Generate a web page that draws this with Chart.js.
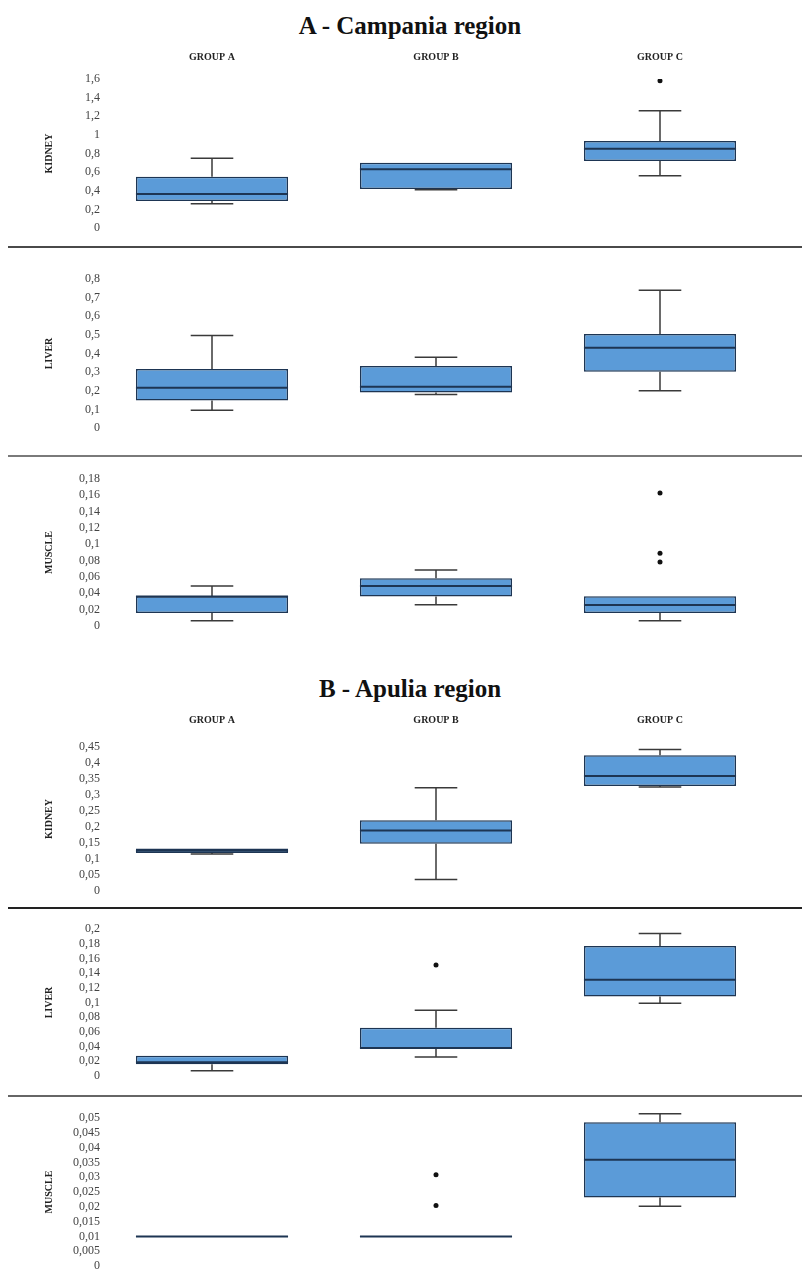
<!DOCTYPE html>
<html lang="en">

<head>
    <meta charset="UTF-8">
    <title>Campania and Apulia regions</title>
    <script src="https://cdn.jsdelivr.net/npm/chart.js"></script>
    <style>
        body {
            margin: 0;
            background: #fff;
        }

        .page {
            position: relative;
            width: 802px;
            height: 1287px;
            overflow: hidden;
        }

        .title {
            position: absolute;
            left: 0;
            width: 820px;
            text-align: center;
            font: bold 25px/30px "Liberation Serif", "Times New Roman", serif;
            color: #111;
        }

        .rule {
            position: absolute;
            left: 8px;
            right: 0;
            height: 2px;
        }

        canvas {
            position: absolute;
            left: 0;
        }
    </style>
</head>

<body>
    <div class="page">
        <div class="title" style="top: 11px">A - Campania region</div>
        <canvas id="campKidney" width="802" height="200" style="top: 40px"></canvas>
        <div class="rule" style="top: 246px; background: #4a4a4a"></div>
        <canvas id="campLiver" width="802" height="178" style="top: 262px"></canvas>
        <div class="rule" style="top: 455px; background: #7a7a7a"></div>
        <canvas id="campMuscle" width="802" height="176" style="top: 462px"></canvas>

        <div class="title" style="top: 674px">B - Apulia region</div>
        <canvas id="apuKidney" width="802" height="203" style="top: 700px"></canvas>
        <div class="rule" style="top: 907px; background: #222"></div>
        <canvas id="apuLiver" width="802" height="176" style="top: 912px"></canvas>
        <div class="rule" style="top: 1095px; background: #666"></div>
        <canvas id="apuMuscle" width="802" height="177" style="top: 1101px"></canvas>
    </div>

    <script>
        const groups = ['GROUP A', 'GROUP B', 'GROUP C'];

        // A - Campania region
        const campKidneyMin = [0.26, 0.41, 0.56];
        const campKidneyQ1 = [0.29, 0.42, 0.72];
        const campKidneyMed = [0.365, 0.63, 0.85];
        const campKidneyQ3 = [0.55, 0.70, 0.935];
        const campKidneyMax = [0.75, 0.70, 1.26];
        const campKidneyOut = [[], [], [1.58]];

        const campLiverMin = [0.095, 0.18, 0.20];
        const campLiverQ1 = [0.147, 0.19, 0.302];
        const campLiverMed = [0.216, 0.222, 0.431];
        const campLiverQ3 = [0.317, 0.333, 0.505];
        const campLiverMax = [0.496, 0.38, 0.74];
        const campLiverOut = [[], [], []];

        const campMuscleMin = [0.0065, 0.026, 0.0065];
        const campMuscleQ1 = [0.016, 0.036, 0.016];
        const campMuscleMed = [0.036, 0.049, 0.0258];
        const campMuscleQ3 = [0.0364, 0.0585, 0.0364];
        const campMuscleMax = [0.049, 0.0687, 0.0364];
        const campMuscleOut = [[], [], [0.163, 0.089, 0.0785]];

        // B - Apulia region
        const apuKidneyMin = [0.116, 0.036, 0.325];
        const apuKidneyQ1 = [0.119, 0.148, 0.328];
        const apuKidneyMed = [0.126, 0.189, 0.359];
        const apuKidneyQ3 = [0.133, 0.221, 0.424];
        const apuKidneyMax = [0.133, 0.323, 0.442];
        const apuKidneyOut = [[], [], []];

        const apuLiverMin = [0.0073, 0.0258, 0.099];
        const apuLiverQ1 = [0.016, 0.0367, 0.108];
        const apuLiverMed = [0.0186, 0.038, 0.131];
        const apuLiverQ3 = [0.0277, 0.0658, 0.177];
        const apuLiverMax = [0.0277, 0.0893, 0.194];
        const apuLiverOut = [[], [0.151], []];

        const apuMuscleMin = [0.01, 0.01, 0.0202];
        const apuMuscleQ1 = [0.01, 0.01, 0.0231];
        const apuMuscleMed = [0.01, 0.01, 0.0359];
        const apuMuscleQ3 = [0.01, 0.01, 0.0486];
        const apuMuscleMax = [0.01, 0.01, 0.0514];
        const apuMuscleOut = [[], [0.0308, 0.0204], []];

        // y axes, in panel order: top tick and tick step
        const yMaxima = [1.6, 0.8, 0.18, 0.45, 0.2, 0.05];
        const ySteps = [0.2, 0.1, 0.02, 0.05, 0.02, 0.005];

        const serif = '"Liberation Serif", "Times New Roman", serif';
        Chart.defaults.font.family = serif;

        // whiskers, caps and median drawn on top of the floating bars
        const whiskers = {
            id: 'whiskers',
            afterDatasetsDraw(chart) {
                const ds = chart.data.datasets[0];
                const y = chart.scales.y;
                const ctx = chart.ctx;
                chart.getDatasetMeta(0).data.forEach((bar, i) => {
                    const half = bar.width / 2;
                    const cap = bar.width * 0.14;
                    const top = y.getPixelForValue(ds.q3[i]);
                    const bottom = y.getPixelForValue(ds.q1[i]);
                    const hi = y.getPixelForValue(ds.max[i]);
                    const lo = y.getPixelForValue(ds.min[i]);
                    const med = y.getPixelForValue(ds.med[i]);
                    ctx.save();
                    ctx.strokeStyle = '#3a3a3a';
                    ctx.lineWidth = 1.5;
                    ctx.beginPath();
                    if (hi < top - 0.5) {
                        ctx.moveTo(bar.x, top);
                        ctx.lineTo(bar.x, hi);
                        ctx.moveTo(bar.x - cap, hi);
                        ctx.lineTo(bar.x + cap, hi);
                    }
                    if (lo > bottom + 0.5) {
                        ctx.moveTo(bar.x, bottom);
                        ctx.lineTo(bar.x, lo);
                        ctx.moveTo(bar.x - cap, lo);
                        ctx.lineTo(bar.x + cap, lo);
                    }
                    ctx.stroke();
                    ctx.strokeStyle = '#1d3553';
                    ctx.lineWidth = 2;
                    ctx.beginPath();
                    ctx.moveTo(bar.x - half, med);
                    ctx.lineTo(bar.x + half, med);
                    ctx.stroke();
                    ctx.restore();
                });
            }
        };

        function boxChart(id, panel, label, s, layout) {
            const outliers = [];
            s.out.forEach((vals, i) => vals.forEach(v => outliers.push({ x: groups[i], y: v })));
            const max = yMaxima[panel];
            const step = ySteps[panel];

            return new Chart(document.getElementById(id), {
                type: 'bar',
                data: {
                    labels: groups,
                    datasets: [{
                        data: s.q1.map((v, i) => [v, s.q3[i]]),
                        q1: s.q1, q3: s.q3, med: s.med, min: s.min, max: s.max,
                        backgroundColor: '#5b9bd8',
                        borderColor: '#1d3553',
                        borderWidth: 1.5,
                        borderSkipped: false,
                        categoryPercentage: 1,
                        barPercentage: 0.679
                    }, {
                        type: 'line',
                        data: outliers,
                        showLine: false,
                        pointRadius: 2.5,
                        pointBackgroundColor: '#111',
                        pointBorderWidth: 0
                    }]
                },
                options: {
                    responsive: false,
                    animation: false,
                    layout: { padding: { top: layout.padTop, bottom: 12, left: 0, right: 30 } },
                    plugins: { legend: { display: false }, tooltip: { enabled: false } },
                    scales: {
                        x: {
                            position: 'top',
                            display: layout.groups,
                            grid: { display: false, drawTicks: false },
                            border: { display: false },
                            ticks: {
                                padding: layout.labelPad,
                                color: '#222',
                                font: { size: 10, weight: 'bold' }
                            },
                            afterFit: sc => { sc.height = layout.axisHeight; }
                        },
                        y: {
                            min: 0,
                            max: max,
                            grid: { display: false, drawTicks: false },
                            border: { display: false },
                            title: {
                                display: true,
                                text: label,
                                color: '#222',
                                font: { size: 10, weight: 'bold' },
                                padding: { top: 43, bottom: 0 }
                            },
                            ticks: {
                                padding: 0,
                                autoSkip: false,
                                color: '#444',
                                font: { size: 12 },
                                callback: v => String(+v.toFixed(4)).replace('.', ',')
                            },
                            afterBuildTicks: sc => {
                                const n = Math.round(max / step);
                                sc.ticks = [];
                                for (let i = 0; i <= n; i++) sc.ticks.push({ value: i * step });
                            },
                            afterFit: sc => { sc.width = 100; }
                        }
                    }
                },
                plugins: [whiskers]
            });
        }

        const withGroups = (axisHeight, labelPad) => ({ groups: true, padTop: 0, axisHeight, labelPad });
        const plain = { groups: false, padTop: 17, axisHeight: 0, labelPad: 0 };

        boxChart('campKidney', 0, 'KIDNEY', { min: campKidneyMin, q1: campKidneyQ1, med: campKidneyMed, q3: campKidneyQ3, max: campKidneyMax, out: campKidneyOut }, withGroups(39, 16));
        boxChart('campLiver', 1, 'LIVER', { min: campLiverMin, q1: campLiverQ1, med: campLiverMed, q3: campLiverQ3, max: campLiverMax, out: campLiverOut }, plain);
        boxChart('campMuscle', 2, 'MUSCLE', { min: campMuscleMin, q1: campMuscleQ1, med: campMuscleMed, q3: campMuscleQ3, max: campMuscleMax, out: campMuscleOut }, plain);

        boxChart('apuKidney', 3, 'KIDNEY', { min: apuKidneyMin, q1: apuKidneyQ1, med: apuKidneyMed, q3: apuKidneyQ3, max: apuKidneyMax, out: apuKidneyOut }, withGroups(47, 21));
        boxChart('apuLiver', 4, 'LIVER', { min: apuLiverMin, q1: apuLiverQ1, med: apuLiverMed, q3: apuLiverQ3, max: apuLiverMax, out: apuLiverOut }, plain);
        boxChart('apuMuscle', 5, 'MUSCLE', { min: apuMuscleMin, q1: apuMuscleQ1, med: apuMuscleMed, q3: apuMuscleQ3, max: apuMuscleMax, out: apuMuscleOut }, plain);
    </script>
</body>

</html>
